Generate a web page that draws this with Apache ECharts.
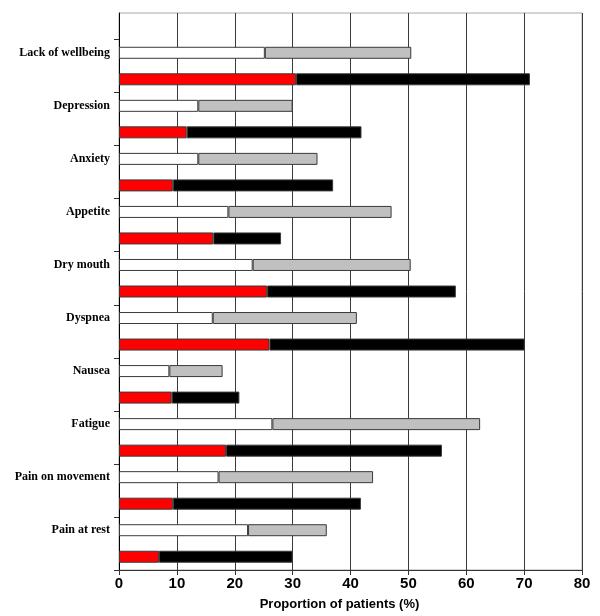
<!DOCTYPE html>
<html>
<head>
<meta charset="utf-8">
<script src="https://cdn.jsdelivr.net/npm/echarts@6/dist/echarts.min.js"></script>
<style>html,body{margin:0;padding:0;background:#fff}#c{width:600px;height:616px}</style>
</head>
<body>
<div id="c"></div>
<script>
var categories = ['Lack of wellbeing','Depression','Anxiety','Appetite','Dry mouth','Dyspnea','Nausea','Fatigue','Pain on movement','Pain at rest'];
// upper bar: white segment + gray segment (stacked values)
var whiteVals = [25.2, 13.7, 13.7, 18.9, 23.1, 16.2, 8.7, 26.5, 17.2, 22.3];
var grayTotals = [50.5, 30.0, 34.3, 47.1, 50.4, 41.1, 17.9, 62.4, 43.9, 35.9];
// lower bar: red segment + black segment
var redVals = [30.6, 11.7, 9.3, 16.3, 25.6, 26.0, 9.1, 18.5, 9.3, 6.9];
var blackTotals = [71.0, 41.9, 37.0, 28.0, 58.2, 70.1, 20.8, 55.8, 41.8, 30.0];
var xTicks = [0, 10, 20, 30, 40, 50, 60, 70, 80];

// build half-band category axis: index 0 empty, then (upper, lower) per category
var yCats = [''];
var sWhite = ['-'], sGray = ['-'], sRed = ['-'], sBlack = ['-'];
categories.forEach(function (c, i) {
  yCats.push(c); yCats.push(' ');
  sWhite.push(whiteVals[i]); sGray.push(+(grayTotals[i] - whiteVals[i]).toFixed(2));
  sRed.push('-'); sBlack.push('-');
  sWhite.push('-'); sGray.push('-');
  sRed.push(redVals[i]); sBlack.push(+(blackTotals[i] - redVals[i]).toFixed(2));
});

var chart = echarts.init(document.getElementById('c'), null, {renderer: 'canvas'});
var border = {borderColor: '#3a3a3a', borderWidth: 1};
function ser(name, data, color) {
  return {
    name: name, type: 'bar', stack: 'all', data: data, barWidth: 12,
    itemStyle: Object.assign({color: color}, border), animation: false
  };
}
chart.setOption({
  animation: false,
  grid: {left: 119, right: 18, top: 13, bottom: 45, show: true, borderColor: '#a8a8a8', borderWidth: 1},
  xAxis: {
    type: 'value', min: xTicks[0], max: xTicks[xTicks.length - 1], interval: 10,
    axisLine: {show: true, lineStyle: {color: '#333', width: 1}},
    axisTick: {show: true, length: 5, lineStyle: {color: '#333'}},
    axisLabel: {fontFamily: 'Liberation Sans', fontWeight: 'bold', fontSize: 15, color: '#000', margin: 6},
    splitLine: {show: true, lineStyle: {color: '#3a3a3a', width: 1}},
    name: 'Proportion of patients (%)', nameLocation: 'middle', nameGap: 28,
    nameTextStyle: {fontFamily: 'Liberation Sans', fontWeight: 'bold', fontSize: 13, color: '#000', padding: [0, 22, 0, 0]}
  },
  yAxis: {
    type: 'category', data: yCats, inverse: true,
    axisLine: {show: true, lineStyle: {color: '#000', width: 1}},
    axisTick: {show: true, length: 5, lineStyle: {color: '#333'}, interval: function (idx) { return idx % 2 === 1; }},
    axisLabel: {interval: 0, fontFamily: 'Liberation Serif', fontWeight: 'bold', fontSize: 12, color: '#000', margin: 9},
    splitLine: {show: false}
  },
  series: [
    ser('white', sWhite, '#ffffff'),
    ser('gray', sGray, '#c0c0c0'),
    ser('red', sRed, '#ff0000'),
    ser('black', sBlack, '#000000')
  ]
});
</script>
</body>
</html>
